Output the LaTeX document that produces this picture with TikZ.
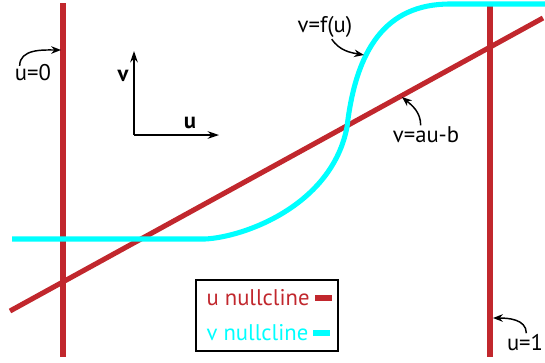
\documentclass[tikz,border=0pt]{standalone}
\usepackage{fontspec}
\setmainfont{PT Sans}
\usepackage{xcolor}
\usepackage{tikz}
\usetikzlibrary{arrows.meta,positioning}
\definecolor{nullu}{HTML}{C1272D}
\definecolor{nullv}{HTML}{00FFFF}
\tikzset{
  ucline/.style={line width=3.8pt,nullu},
  vcline/.style={line width=3.8pt,nullv},
  lblar/.style={-{Stealth[length=2.6mm,width=2mm]},line width=1.1pt},
  ax/.style={-{Stealth[length=3mm,width=2mm]},line width=1.2pt},
  lbl/.style={font=\fontsize{17}{19}\selectfont,inner sep=1pt}
}
\begin{document}
\begin{tikzpicture}[x=0.75pt,y=-0.75pt]
\useasboundingbox (0,0) rectangle (545,362);
% nullclines
\draw[ucline] (63,3)--(63,357);
\draw[ucline] (490,5)--(490,357);
\draw[ucline] (10,311)--(543,18);
\draw[vcline] (12,239) -- (205,239) .. controls (245,237) and (332,205) .. (347,127)
  .. controls (356,50) and (385,4) .. (450,4) -- (545,4);
% axes
\coordinate (O) at (134,135);
\draw[ax] (O)--(134,51) coordinate (vtop);
\draw[ax] (O)--(219,135) coordinate (uend);
\node[font=\fontsize{17}{19}\selectfont\bfseries] (vax) at (123,76) {v};
\node[font=\fontsize{17}{19}\selectfont\bfseries] (uax) at (190,123) {u};
% labels
\node[lbl] (lu0) at (33,73) {u=0};
\coordinate (pu0) at (61,50);
\draw[lblar] ([xshift=-10pt,yshift=-2pt]lu0.north) to[out=90,in=180] (pu0);
\node[lbl] (lvf) at (325,27) {v=f(u)};
\coordinate (pvf) at (364,55);
\draw[lblar] ([xshift=5pt]lvf.south) to[out=-55,in=170] (pvf);
\node[lbl] (lva) at (426,135) {v=au-b};
\coordinate (pva) at (402,97);
\draw[lblar] ([xshift=-4pt]lva.north) to[out=90,in=-40] (pva);
\node[lbl] (lu1) at (525,343) {u=1};
\coordinate (pu1) at (493,318);
\draw[lblar] ([xshift=1pt]lu1.north) to[out=90,in=0] (pu1);
% legend
\draw[line width=1.3pt] (196,280) rectangle (338,351);
\node[lbl,nullu,anchor=west] (legu) at (205,298) {u nullcline};
\draw[ucline] (315,298)--(332,298);
\node[lbl,nullv,anchor=west] (legv) at (205,333) {v nullcline};
\draw[vcline] (313,333)--(330,333);
\end{tikzpicture}
\end{document}
